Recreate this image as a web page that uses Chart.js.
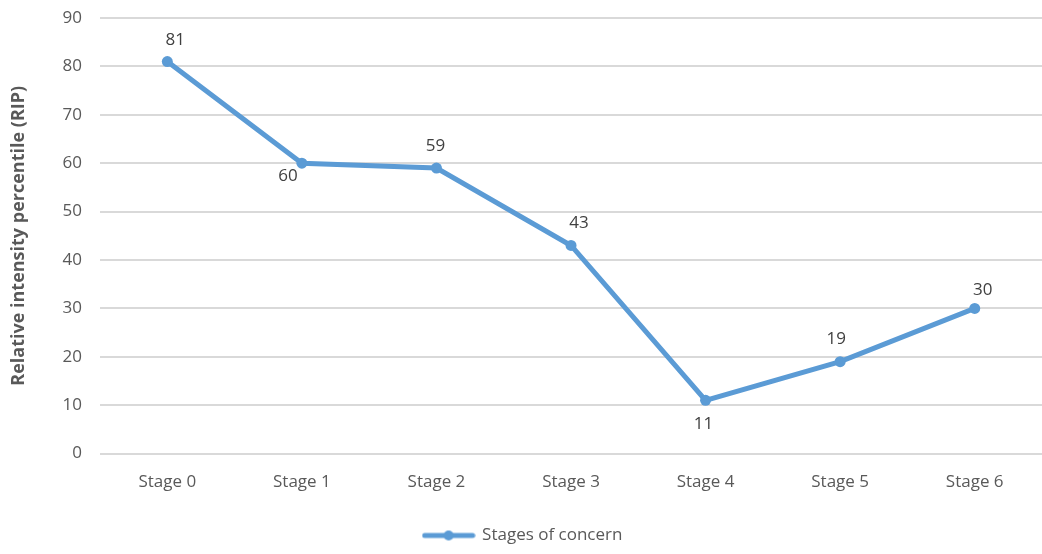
<!DOCTYPE html>
<html>
<head>
<meta charset="utf-8">
<script src="https://cdn.jsdelivr.net/npm/chart.js@4"></script>
<style>
    html, body { margin: 0; padding: 0; background: #fff; }
    #wrap { width: 1042px; height: 554px; position: relative; }
</style>
</head>
<body>
<div id="wrap"><canvas id="chart"></canvas></div>
<script>
// data
const stages = ['Stage 0', 'Stage 1', 'Stage 2', 'Stage 3', 'Stage 4', 'Stage 5', 'Stage 6'];
const ripValues = [81, 60, 59, 43, 11, 19, 30];
const seriesName = 'Stages of concern';
const axisTitle = 'Relative intensity percentile (RIP)';

const BLUE = '#5B9BD5';
const TEXT = '#595959';
const FONT = '"Open Sans", sans-serif';

// where each value label sits relative to its point (px)
const labelOffset = [[8, -21], [-14, 13], [-1, -22], [8, -22], [-2, 24], [-4, -22], [8, -18]];

// small legend marker: line with a dot in the middle
const legendMark = document.createElement('canvas');
legendMark.width = 54;
legendMark.height = 12;
(function () {
    const c = legendMark.getContext('2d');
    c.strokeStyle = BLUE;
    c.lineWidth = 5;
    c.lineCap = 'round';
    c.beginPath();
    c.moveTo(3, 6);
    c.lineTo(51, 6);
    c.stroke();
    c.fillStyle = BLUE;
    c.beginPath();
    c.arc(27, 6, 5, 0, Math.PI * 2);
    c.fill();
})();

// value labels on each point
const pointLabels = {
    id: 'pointLabels',
    afterDatasetsDraw(chart) {
        const ctx = chart.ctx;
        const meta = chart.getDatasetMeta(0);
        ctx.save();
        ctx.font = '17px ' + FONT;
        ctx.fillStyle = '#404040';
        ctx.textAlign = 'center';
        ctx.textBaseline = 'middle';
        meta.data.forEach((pt, i) => {
            const [dx, dy] = labelOffset[i];
            ctx.fillText(String(ripValues[i]), pt.x + dx, pt.y + dy);
        });
        ctx.restore();
    }
};

new Chart(document.getElementById('chart'), {
    type: 'line',
    data: {
        labels: stages,
        datasets: [{
            label: seriesName,
            data: ripValues,
            borderColor: BLUE,
            backgroundColor: BLUE,
            borderWidth: 5,
            pointRadius: 5.5,
            pointHoverRadius: 5.5,
            pointBackgroundColor: BLUE,
            pointBorderWidth: 0,
            tension: 0
        }]
    },
    options: {
        responsive: true,
        maintainAspectRatio: false,
        animation: false,
        layout: { autoPadding: false, padding: { top: 18, right: 0, left: 4, bottom: 0 } },
        plugins: {
            tooltip: { enabled: false },
            legend: {
                position: 'bottom',
                labels: {
                    usePointStyle: true,
                    pointStyleWidth: 50,
                    boxHeight: 12,
                    font: { family: FONT, size: 17 },
                    color: TEXT,
                    padding: 1,
                    generateLabels(chart) {
                        const items = Chart.defaults.plugins.legend.labels.generateLabels(chart);
                        items.forEach(it => { it.pointStyle = legendMark; });
                        return items;
                    }
                }
            }
        },
        scales: {
            x: {
                offset: true,
                grid: { display: true, drawOnChartArea: false, drawTicks: true, tickLength: 18, tickColor: 'rgba(0,0,0,0)' },
                border: { display: false },
                ticks: { color: TEXT, font: { family: FONT, size: 17 }, padding: 0 },
                // leave an empty band between the stage labels and the legend
                afterFit(scale) { scale.height += 34; }
            },
            y: {
                min: 0,
                max: 90,
                ticks: { stepSize: 10, color: TEXT, font: { family: FONT, size: 17 }, padding: 0 },
                grid: { color: '#d9d9d9', lineWidth: 2, drawTicks: true, tickLength: 18, tickColor: 'rgba(0,0,0,0)' },
                border: { display: false },
                title: {
                    display: true,
                    text: axisTitle,
                    color: TEXT,
                    font: { family: FONT, size: 18, weight: 'bold' },
                    padding: { bottom: 33 }
                }
            }
        }
    },
    plugins: [pointLabels]
});
</script>
</body>
</html>
